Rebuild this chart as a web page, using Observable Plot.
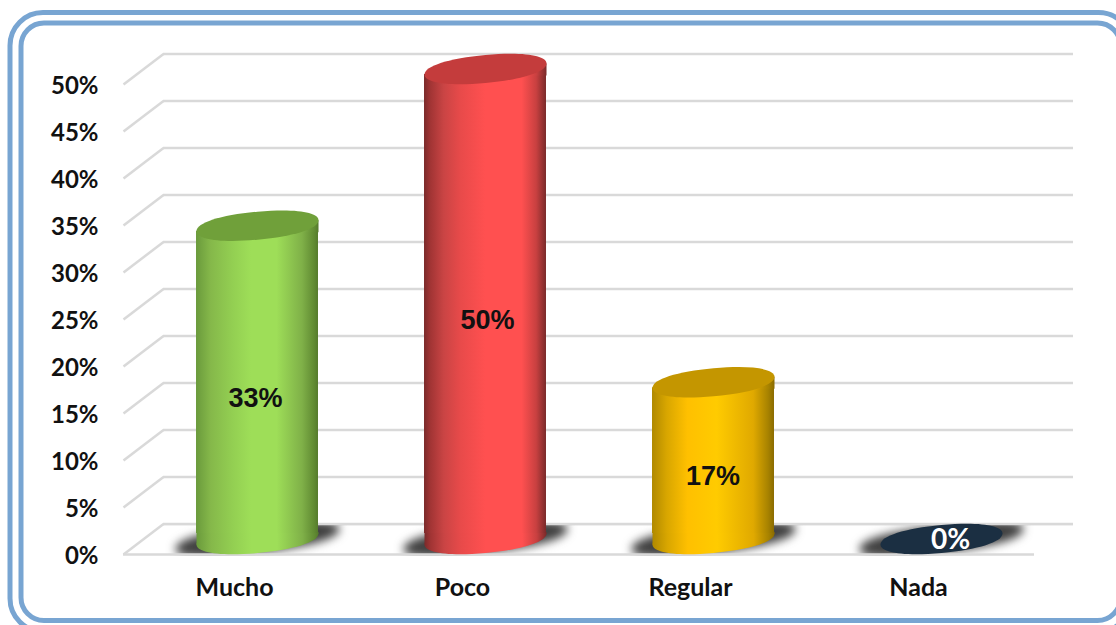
<!DOCTYPE html>
<html>
<head>
<meta charset="utf-8">
<script src="https://cdn.jsdelivr.net/npm/d3@7"></script>
<script src="https://cdn.jsdelivr.net/npm/@observablehq/plot@0.6"></script>
<style>
html,body{margin:0;padding:0;background:#fff;overflow:hidden;width:1116px;height:625px}
</style>
</head>
<body>
<svg width="0" height="0" style="position:absolute">
<defs>
<linearGradient id="gMucho"><stop offset="0" stop-color="#6a9a3c"/><stop offset=".12" stop-color="#85b84a"/><stop offset=".3" stop-color="#93cf52"/><stop offset=".45" stop-color="#9ede58"/><stop offset=".66" stop-color="#9ede58"/><stop offset=".87" stop-color="#7fb048"/><stop offset=".97" stop-color="#608a32"/><stop offset="1" stop-color="#557a2c"/></linearGradient>
<linearGradient id="gPoco"><stop offset="0" stop-color="#7a2a2a"/><stop offset=".05" stop-color="#a03434"/><stop offset=".16" stop-color="#c94444"/><stop offset=".3" stop-color="#e84a4a"/><stop offset=".5" stop-color="#ff5050"/><stop offset=".8" stop-color="#ff5050"/><stop offset=".92" stop-color="#c84040"/><stop offset="1" stop-color="#7a2a2a"/></linearGradient>
<linearGradient id="gRegular"><stop offset="0" stop-color="#b08900"/><stop offset=".12" stop-color="#d8a600"/><stop offset=".29" stop-color="#ffc000"/><stop offset=".53" stop-color="#ffcb00"/><stop offset=".83" stop-color="#e0a900"/><stop offset=".95" stop-color="#a88300"/><stop offset="1" stop-color="#8a6b00"/></linearGradient>
</defs>
</svg>
<div id="chart"></div>
<script>
const categories = ["Mucho", "Poco", "Regular", "Nada"];
const values = [33.33, 50, 16.67, 0];
const labels = ["33%", "50%", "17%", "0%"];
const yTicks = [0, 5, 10, 15, 20, 25, 30, 35, 40, 45, 50];

const bodyFill = {Mucho: "url(#gMucho)", Poco: "url(#gPoco)", Regular: "url(#gRegular)", Nada: "#1b2f42"};
const capFill = {Mucho: "#70a03a", Poco: "#c43c3c", Regular: "#c49600", Nada: "#1b2f42"};
const labelShift = {Mucho: -2, Poco: 2, Regular: -0.5, Nada: 0};

const rows = categories.map((name, i) => ({name, value: values[i], label: labels[i]}));
const solid = rows.filter(d => d.value > 0);

// A sheared ellipse: the tilted disc of a cylinder seen from above.
function disc(a, b, tilt, k) {
  const pt = (u, v) => [a * u, b * v - tilt * u];
  return {
    draw(c) {
      const seg = (p) => c.bezierCurveTo(...pt(...p[0]), ...pt(...p[1]), ...pt(...p[2]));
      c.moveTo(...pt(1, 0));
      seg([[1, k], [k, 1], [0, 1]]);
      seg([[-k, 1], [-1, k], [-1, 0]]);
      seg([[-1, -k], [-k, -1], [0, -1]]);
      seg([[k, -1], [1, -k], [1, 0]]);
      c.closePath();
    }
  };
}
const capA = 61, capB = 14, capTilt = 5.5;
const capDisc = disc(capA, capB, capTilt, 0.6);
const shadowDisc = disc(82, 14, 10, 0.66);
const wallLine = {draw(c) { c.moveTo(0, 0); c.lineTo(-40, 30.5); }};
// Wedges that join the flat bar to the tilted discs at both ends.
const topWedge = {draw(c) { c.moveTo(-capA, capTilt); c.lineTo(capA, -capTilt); c.lineTo(capA, capTilt + 1); c.lineTo(-capA, capTilt + 1); c.closePath(); }};
const footWedge = {draw(c) { c.moveTo(-capA, capTilt); c.lineTo(capA, -capTilt); c.lineTo(capA, -capTilt - 1); c.lineTo(-capA, -capTilt - 1); c.closePath(); }};

const gridColor = "#d9d9d9";
const border = "#78a5d2";
const labelFont = "Lato";
const bodyChannel = {value: d => bodyFill[d.name], scale: null};

const chart = Plot.plot({
  width: 1116,
  height: 625,
  marginLeft: 163,
  marginRight: 43,
  marginTop: 53,
  marginBottom: 53,
  style: {background: "#fff", fontFamily: labelFont, color: "#111", overflow: "hidden"},
  x: {type: "band", domain: categories, range: [143, 1055], paddingInner: 0.465, paddingOuter: 0.2325, round: false, label: null},
  y: {domain: [0, 50], range: [538.5, 68.5], label: null},
  marks: [
    Plot.frame({stroke: border, strokeWidth: 5, rx: 33, insetLeft: -153.5, insetRight: -58, insetTop: -41, insetBottom: -59}),
    Plot.frame({stroke: border, strokeWidth: 5, rx: 23, insetLeft: -142.5, insetRight: -47, insetTop: -30.5, insetBottom: -48}),

    Plot.ruleY(yTicks, {y: d => d, dy: -15, stroke: gridColor, strokeWidth: 2.5}),
    Plot.dot(yTicks, {y: d => d, dy: -15, frameAnchor: "left", symbol: wallLine, fill: "none", stroke: gridColor, strokeWidth: 2.5}),

    Plot.dot(rows, {x: "name", y: () => 0, symbol: shadowDisc, fill: "#404040", imageFilter: "blur(5px)"}),
    Plot.ruleY([0], {y: d => d, dy: 23, stroke: "#fff", strokeWidth: 13, insetLeft: -60, insetRight: 0}),
    Plot.ruleY([0], {y: d => d, dy: -23, stroke: "#fff", strokeWidth: 14, insetLeft: 0, insetRight: 0}),
    Plot.ruleY([0], {y: d => d, dy: -15, stroke: gridColor, strokeWidth: 2.5}),
    Plot.ruleY([0], {y: d => d, dy: 15.5, stroke: gridColor, strokeWidth: 2.5, insetLeft: -40, insetRight: 39}),

    Plot.dot(solid, {x: "name", y: () => 0, symbol: capDisc, fill: bodyChannel}),
    Plot.dot(solid, {x: "name", y: () => 0, symbol: footWedge, fill: bodyChannel}),
    Plot.barY(solid, {x: "name", y: "value", fill: bodyChannel, insetTop: capTilt, insetBottom: capTilt}),
    Plot.dot(solid, {x: "name", y: "value", symbol: topWedge, fill: bodyChannel}),
    Plot.dot(rows, {x: "name", y: "value", symbol: capDisc, fill: {value: d => capFill[d.name], scale: null}}),

    Plot.axisY(yTicks, {anchor: "left", tickSize: 0, tickPadding: 65, dy: 17, tickFormat: d => d + "%", fontSize: 24, fontWeight: 700, fill: "#111", label: null}),
    Plot.axisX(categories, {anchor: "bottom", tickSize: 0, tickPadding: 6, dx: -23, fontSize: 25, fontWeight: 700, fill: "#111", label: null}),

    ...solid.map(d => Plot.text([d], {x: "name", y: r => r.value / 2, text: "label", dy: 16, dx: labelShift[d.name], fontSize: 27, fontWeight: 700, fontFamily: "Liberation Sans", fill: "#111"})),
    Plot.text(rows.filter(d => d.value === 0), {x: "name", y: "value", text: "label", dx: 9, dy: 1, fontSize: 28, fontWeight: 700, fill: "#fff"})
  ]
});
document.getElementById("chart").appendChild(chart);
</script>
</body>
</html>
